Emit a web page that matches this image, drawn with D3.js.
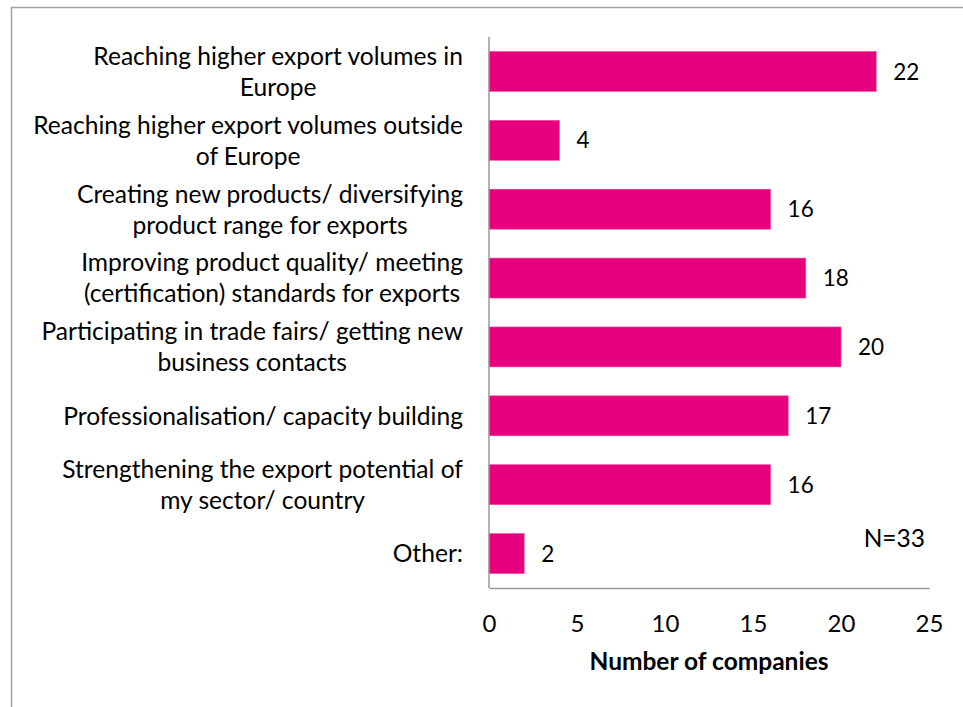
<!DOCTYPE html>
<html>
<head>
<meta charset="utf-8">
<script src="https://cdn.jsdelivr.net/npm/d3@7"></script>
<style>
  html, body { margin: 0; padding: 0; background: #fff; }
  svg text { font-family: Lato, "Open Sans", sans-serif; fill: #000; }
</style>
</head>
<body>
<svg id="chart" width="963" height="707"></svg>
<script>
// Each category is split into its display lines
const categories = [
  ["Reaching higher export volumes in", "Europe"],
  ["Reaching higher export volumes outside", "of Europe"],
  ["Creating new products/ diversifying", "product range for exports"],
  ["Improving product quality/ meeting", "(certification) standards for exports"],
  ["Participating in trade fairs/ getting new", "business contacts"],
  ["Professionalisation/ capacity building"],
  ["Strengthening the export potential of", "my sector/ country"],
  ["Other:"]
];
const values = [22, 4, 16, 18, 20, 17, 16, 2];
const xTicks = [0, 5, 10, 15, 20, 25];
const axisTitle = "Number of companies";
const note = "N=33";

const svg = d3.select("#chart");
const labelSize = 24.6;
const valueSize = 22.5;
const tickSize = 24;
const plot = { left: 489, right: 929, top: 37, bottom: 588 };

// Outer frame (left and top edges)
svg.append("path")
  .attr("d", "M11.5,707 V7.5 H963")
  .attr("fill", "none")
  .attr("stroke", "#a0a0a0")
  .attr("stroke-width", 1.5);

const x = d3.scaleLinear().domain([0, 25]).range([plot.left, plot.right]);
const y = d3.scaleBand()
  .domain(d3.range(categories.length))
  .range([plot.top, plot.bottom])
  .paddingInner(0.42)
  .paddingOuter(0.21);

// Bars
svg.append("g").selectAll("rect")
  .data(values)
  .join("rect")
  .attr("x", x(0))
  .attr("y", (d, i) => y(i))
  .attr("width", d => x(d) - x(0))
  .attr("height", y.bandwidth())
  .attr("fill", "#e6007e")
  .attr("stroke", "#ec4a9c")
  .attr("stroke-width", 0.6);

// Value labels
svg.append("g").selectAll("text")
  .data(values)
  .join("text")
  .attr("x", d => x(d) + 17)
  .attr("y", (d, i) => y(i) + y.bandwidth() / 2)
  .attr("dy", "0.36em")
  .attr("font-size", valueSize)
  .text(d => d);

// Category labels, right-aligned against the axis
const lineGap = 31;
const catG = svg.append("g");
categories.forEach((lines, i) => {
  const cy = y(i) + y.bandwidth() / 2;
  const t = catG.append("text")
    .attr("text-anchor", "middle")
    .attr("font-size", labelSize);
  lines.forEach((ln, k) => {
    t.append("tspan")
      .attr("y", cy + (k - (lines.length - 1) / 2) * lineGap)
      .attr("dy", "0.36em")
      .text(ln);
  });
  // centre each line block so its widest line ends at the label edge
  const spans = t.selectAll("tspan").nodes();
  const widths = spans.map(s => s.getComputedTextLength());
  const maxW = d3.max(widths);
  const cx = 463 - maxW / 2;
  spans.forEach(s => s.setAttribute("x", cx));
});

// Axes drawn as plain lines (no tick marks)
const xAxis = d3.axisBottom(x).tickValues(xTicks).tickSize(0).tickPadding(27);
const gx = svg.append("g")
  .attr("transform", `translate(0,${plot.bottom})`)
  .call(xAxis);
gx.select(".domain").attr("stroke", "#999").attr("stroke-width", 1.5);
gx.selectAll("text")
  .attr("font-size", tickSize)
  .attr("font-family", "Lato, sans-serif")
  .attr("fill", "#000");

svg.append("line")
  .attr("x1", plot.left).attr("x2", plot.left)
  .attr("y1", plot.top).attr("y2", plot.bottom)
  .attr("stroke", "#999")
  .attr("stroke-width", 1.5);

// Axis title
svg.append("text")
  .attr("x", (plot.left + plot.right) / 2)
  .attr("y", 670)
  .attr("text-anchor", "middle")
  .attr("font-size", 24.5)
  .attr("font-weight", "bold")
  .text(axisTitle);

// Sample size note
svg.append("text")
  .attr("x", 925)
  .attr("y", 547)
  .attr("text-anchor", "end")
  .attr("font-size", 24.5)
  .text(note);
</script>
</body>
</html>
